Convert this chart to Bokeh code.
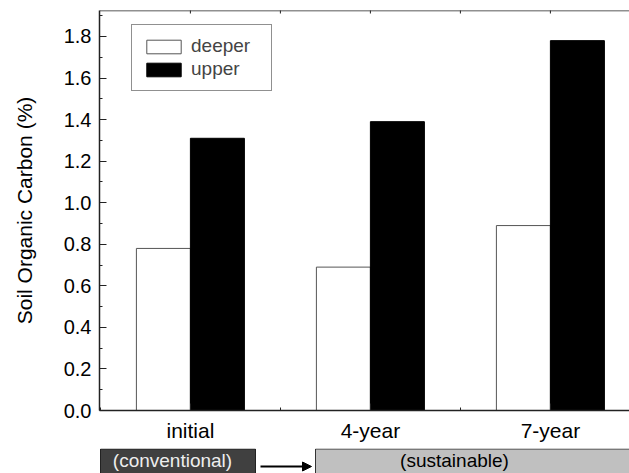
import math
from bokeh.plotting import figure
from bokeh.models import (Range1d, FixedTicker, Legend, LegendItem, Span,
                          Arrow, NormalHead, NumeralTickFormatter)
from bokeh.layouts import column
from bokeh.core.properties import value
from bokeh.embed import file_html
from bokeh.resources import INLINE

# ---- data ----
categories = ["initial", "4-year", "7-year"]
cat_pos = [1, 2, 3]
deeper = [0.78, 0.69, 0.89]
upper = [1.31, 1.39, 1.78]
y_ticks = [0.0, 0.2, 0.4, 0.6, 0.8, 1.0, 1.2, 1.4, 1.6, 1.8]
y_minor = [0.1, 0.3, 0.5, 0.7, 0.9, 1.1, 1.3, 1.5, 1.7, 1.9]
x_minor = [0.5, 1.5, 2.5, 3.5]
top_ticks = [1, 1.5, 2, 2.5, 3]
stage_labels = ["(conventional)", "(sustainable)"]

FONT = "Liberation Sans"
AX = "#222222"
BAR_W = 0.3
PX = 180.0                      # pixels per category unit
X0, X1 = 0.495, 0.495 + 530 / PX
Y0, Y1 = 0.0, 1.925

x_range = Range1d(X0, X1)

p = figure(width=629, height=448, output_backend="svg", toolbar_location=None,
           x_range=x_range, y_range=Range1d(Y0, Y1),
           min_border_left=99, min_border_right=0, min_border_top=10,
           min_border_bottom=38)
p.outline_line_color = None
p.xgrid.visible = False
p.ygrid.visible = False
p.background_fill_color = "white"
p.border_fill_color = "white"

r_deep = p.vbar(x=[c - BAR_W / 2 for c in cat_pos], top=deeper, width=BAR_W, bottom=0,
                fill_color="white", line_color="#555555", line_width=1)
r_up = p.vbar(x=[c + BAR_W / 2 for c in cat_pos], top=upper, width=BAR_W, bottom=0,
              fill_color="black", line_color="black", line_width=1)

# top frame line with small inward ticks
p.add_layout(Span(location=Y1, dimension="width", line_color=AX, line_width=1.5))
p.scatter(x=top_ticks, y=[Y1] * len(top_ticks), marker="dash", angle=math.pi / 2,
          size=6, line_color=AX, line_width=1)

# axes
xa = p.xaxis[0]
xa.ticker = FixedTicker(ticks=cat_pos, minor_ticks=x_minor)
xa.major_label_overrides = {c: l for c, l in zip(cat_pos, categories)}
xa.major_tick_in = 7
xa.major_tick_out = 0
xa.minor_tick_in = 3
xa.minor_tick_out = 0
xa.major_label_standoff = 8
xa.major_label_text_font = FONT
xa.major_label_text_font_size = "21px"
xa.major_label_text_color = "black"
xa.axis_line_width = 1.5
xa.axis_line_color = AX
xa.major_tick_line_color = AX
xa.minor_tick_line_color = AX

ya = p.yaxis[0]
ya.ticker = FixedTicker(ticks=y_ticks, minor_ticks=y_minor)
ya.formatter = NumeralTickFormatter(format="0.0")
ya.major_tick_in = 7
ya.major_tick_out = 0
ya.minor_tick_in = 3
ya.minor_tick_out = 0
ya.major_label_standoff = 8
ya.major_label_text_font = FONT
ya.major_label_text_font_size = "20px"
ya.major_label_text_color = "black"
ya.axis_label = "Soil Organic Carbon (%)"
ya.axis_label_text_font = FONT
ya.axis_label_text_font_size = "21px"
ya.axis_label_text_font_style = "normal"
ya.axis_label_text_color = "black"
ya.axis_label_standoff = 25
ya.axis_line_width = 1.5
ya.axis_line_color = AX
ya.major_tick_line_color = AX
ya.minor_tick_line_color = AX

legend = Legend(items=[LegendItem(label="deeper", renderers=[r_deep]),
                       LegendItem(label="upper", renderers=[r_up])],
                location=(32, 319), glyph_width=43, glyph_height=17,
                label_standoff=6, padding=10, spacing=1, margin=0,
                label_width=70,
                label_text_font=FONT, label_text_font_size="19px",
                border_line_color=AX, border_line_width=1,
                background_fill_alpha=1.0)
p.add_layout(legend, "center")

# ---- lower strip with stage boxes (frame aligned with the main plot) ----
s = figure(width=629, height=25, output_backend="svg", toolbar_location=None,
           x_range=x_range, y_range=Range1d(0, 25),
           x_axis_location=None, y_axis_location=None,
           min_border_left=99, min_border_right=0, min_border_top=0, min_border_bottom=0)
s.grid.visible = False
s.outline_line_color = None
s.background_fill_color = "white"
s.border_fill_color = "white"

s.quad(left=[X0 + 1 / PX], right=[X0 + 156 / PX], bottom=[-5], top=[24.5],
       fill_color="#404040", line_color="#222222", line_width=1)
s.quad(left=[X0 + 216 / PX], right=[X1 + 1], bottom=[-5], top=[24.5],
       fill_color="#c0c0c0", line_color="#333333", line_width=1)
s.text(x=[X0 + 73 / PX], y=[13.5], text=[stage_labels[0]], text_align="center",
       text_baseline="middle", text_font=value(FONT), text_font_size="19px",
       text_color="#eeeeee")
s.text(x=[X0 + 355 / PX], y=[13.5], text=[stage_labels[1]], text_align="center",
       text_baseline="middle", text_font=value(FONT), text_font_size="19px",
       text_color="black")
s.add_layout(Arrow(end=NormalHead(size=9, fill_color="black", line_color="black"),
                   x_start=X0 + 161 / PX, y_start=7, x_end=X0 + 212 / PX, y_end=7,
                   line_width=2, line_color="black"))

layout = column(p, s, spacing=0)
open("out.html", "w").write(file_html(layout, INLINE))
